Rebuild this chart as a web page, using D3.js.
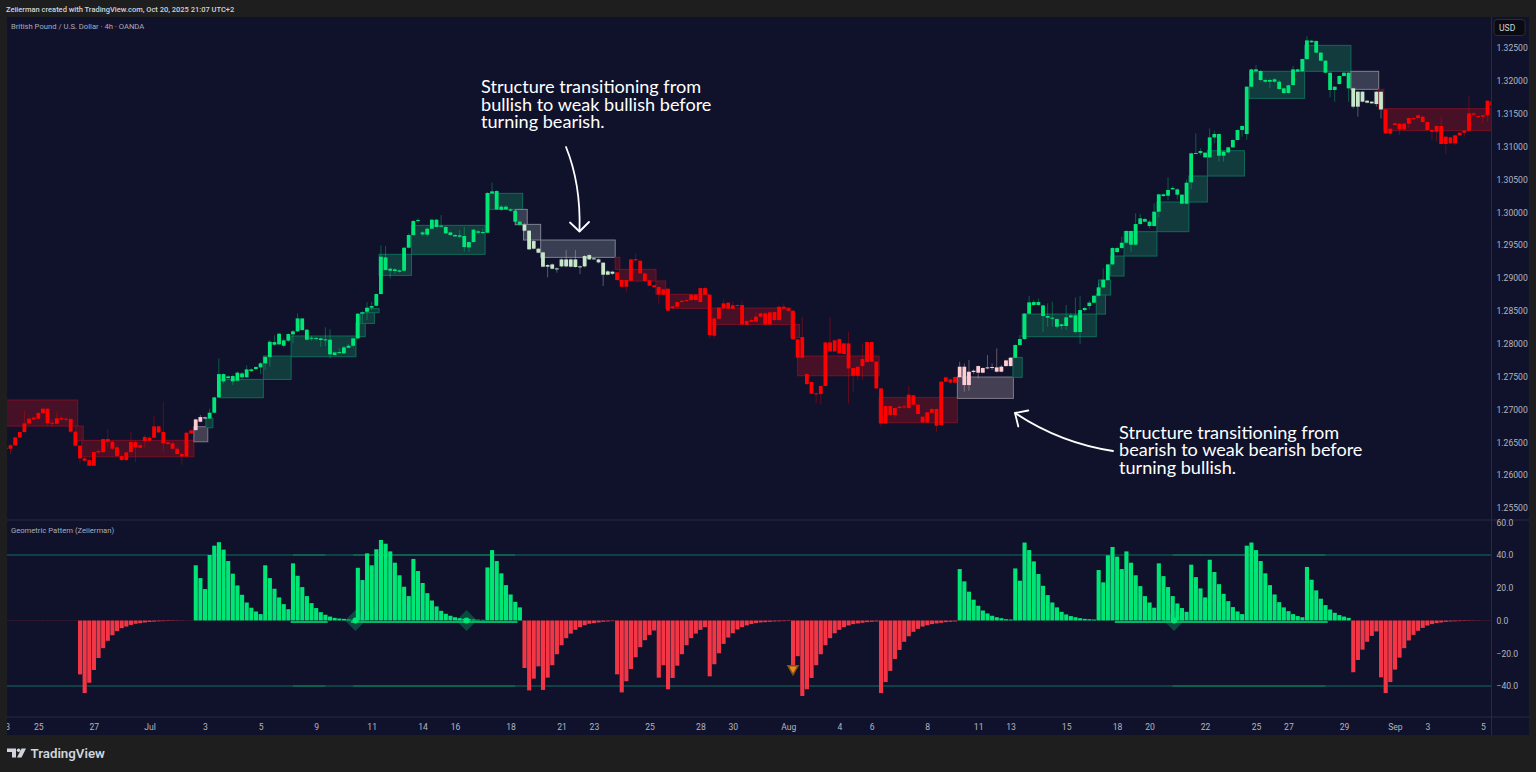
<!DOCTYPE html>
<html>
<head>
<meta charset="utf-8">
<script src="https://cdnjs.cloudflare.com/ajax/libs/d3/7.8.5/d3.min.js"></script>
<style>
html, body { margin: 0; padding: 0; background: #1e1e1e; overflow: hidden; }
svg { display: block; }
</style>
</head>
<body>
<div id="dchart"></div>
<script>
// GBPUSD 4h candles, prices in 1e-5 units
const opens = [
126417,126402,126453,126574,126656,126788,126848,126859,126945,127011,
126788,126782,126848,126859,126854,126661,126448,126255,126229,126143,
126346,126351,126549,126508,126422,126290,126229,126351,126503,126417,
126519,126569,126569,126742,126656,126498,126483,126402,126321,126285,
126635,126686,126813,126864,126864,126950,127183,127538,127477,127427,
127437,127548,127488,127584,127615,127640,127701,127797,127985,127990,
128051,128046,128142,128188,128385,128213,128076,128086,128081,128066,
128061,127827,127858,127853,127939,127969,128081,128457,128487,128548,
128578,128756,129314,129141,129106,129096,129111,129461,129654,129867,
129694,129659,129750,129887,129781,129776,129694,129654,129649,129639,
129466,129547,129710,129684,129689,130288,130323,130085,130044,130044,
130024,129857,129811,129720,129562,129446,129390,129197,129207,129146,
129177,129283,129283,129283,129177,129177,129283,129299,129283,129233,
129050,129096,129086,128969,128867,128959,129288,129263,129070,128964,
128888,128862,128827,128837,128543,128563,128634,128649,128664,128746,
128634,128847,128746,128122,128380,128538,128624,128533,128573,128588,
128289,128335,128335,128411,128462,128294,128482,128360,128563,128538,
128502,128066,127787,127538,127417,127244,127234,127356,128020,127883,
128071,127843,128005,127630,127513,127660,127721,128025,127726,127320,
126787,127051,126914,127021,127031,127021,127214,127072,126889,126803,
126950,127006,126762,127422,127457,127407,127493,127650,127371,127569,
127559,127630,127625,127635,127640,127574,127660,127660,127787,127980,
128071,128457,128589,128634,128583,128421,128396,128375,128269,128269,
128401,128431,128177,128512,128573,128624,128730,128857,128969,129207,
129456,129456,129537,129715,129507,129821,129897,129857,129791,130009,
130273,130252,130349,130349,130268,130131,130455,130897,130902,130907,
130836,131140,131191,130861,130912,130988,131100,131252,131191,131911,
132175,132150,132013,131987,131987,131987,131886,131815,131937,132175,
132145,132332,132611,132606,132429,132307,132124,131861,131952,132074,
132124,131886,131607,131835,131698,131683,131647,131835,131566,131196,
131328,131348,131262,131348,131434,131434,131455,131374,131252,131226,
131313,131039,131140,131049,131171,131211,131242,131505,131445,131455,131475,131688];

const closes = [
126402,126453,126574,126656,126788,126859,126874,126945,127011,126788,
126798,126864,126869,126848,126661,126448,126255,126219,126143,126351,
126366,126549,126508,126402,126290,126229,126346,126503,126422,126453,
126579,126524,126742,126651,126483,126473,126402,126321,126285,126645,
126681,126848,126884,126879,126950,127183,127538,127427,127503,127508,
127559,127488,127609,127609,127645,127701,127797,128030,128025,128152,
127969,128147,128188,128385,128208,128061,128091,128076,128056,128051,
127838,127868,127873,127944,127969,128081,128457,128477,128548,128573,
128756,129324,129121,129111,129131,129116,129461,129654,129867,129882,
129664,129750,129887,129776,129796,129679,129654,129633,129628,129471,
129547,129735,129689,129699,130293,130318,130044,130039,130085,130024,
129857,129811,129720,129436,129446,129385,129172,129172,129141,129136,
129283,129177,129172,129167,129162,129334,129349,129288,129238,129050,
129101,129065,128969,128867,128969,129283,129268,129070,128954,128883,
128862,128751,128746,128502,128568,128634,128654,128664,128746,128664,
128847,128746,128132,128385,128548,128614,128533,128583,128588,128294,
128345,128360,128411,128462,128294,128477,128360,128563,128533,128502,
128066,127787,128101,127386,127239,127234,127356,128020,127883,128051,
127853,128005,127624,127513,127650,127767,128025,127726,127320,126787,
127051,126914,127021,127041,127046,127224,127072,126930,126803,126955,
127006,126752,127422,127488,127407,127493,127650,127371,127574,127589,
127660,127559,127640,127645,127574,127650,127746,127787,127980,128071,
128457,128629,128634,128589,128421,128396,128380,128259,128294,128401,
128431,128177,128512,128543,128624,128730,128857,128974,129207,129456,
129395,129537,129715,129507,129821,129907,129857,129791,130009,130273,
130247,130339,130369,130268,130131,130450,130897,130902,130932,130836,
131140,131191,130861,130922,130988,131100,131252,131313,131911,132175,
132145,132013,131987,132013,132023,131876,131815,131932,132175,132140,
132332,132616,132586,132429,132307,132124,131861,131911,132074,132124,
131886,131607,131835,131683,131668,131658,131835,131566,131201,131272,
131353,131262,131348,131434,131424,131475,131374,131252,131226,131313,
131039,131150,131049,131171,131211,131242,131505,131485,131465,131475,131698,131632];

const highs = [
126422,126473,126585,126666,126980,126879,126889,126960,127031,127021,
126848,126960,126899,126879,126864,126666,126458,126280,126260,126351,
126392,126554,126706,126534,126458,126321,126351,126656,126524,126473,
126610,126595,126899,126762,127112,126524,126509,126432,126341,126656,
126696,126859,126914,126889,127011,127193,127777,127548,127518,127528,
127579,127569,127670,127625,127660,127721,127822,128056,128127,128167,
128081,128157,128208,128462,128385,128223,128117,128107,128096,128249,
128218,127883,127934,127965,127995,128096,128467,128492,128634,128634,
128766,129497,129486,129162,129152,129131,129466,129679,129882,129907,
129720,129770,129902,129902,129958,129791,129710,129669,129730,129781,
129557,129750,129740,129755,130308,130450,130339,130110,130110,130065,
130034,129882,129831,129730,129578,129461,129400,129212,129222,129162,
129299,129425,129299,129425,129192,129349,129365,129314,129299,129243,
129121,129111,129096,128979,128979,129294,129375,129273,129081,128974,
128898,128873,128837,128847,128588,128644,128664,128675,128756,128756,
128857,128867,128756,128396,128558,128675,128634,128639,128599,128654,
128360,128385,128487,128472,128477,128487,128492,128573,128614,128553,
128512,128076,128411,127549,127427,127254,127371,128030,128401,128066,
128081,128015,128183,127640,127660,128005,128035,128035,127736,127330,
127061,127061,127031,127067,127092,127356,127224,127082,126899,126965,
127016,127016,127432,127498,127467,127503,127726,127701,127751,127609,
127670,127640,127828,127701,127929,127675,127756,127797,127990,128132,
128467,128730,128665,128690,128593,128614,128639,128386,128310,128589,
128462,128705,128725,128563,128654,128741,128918,129146,129217,129466,
129476,129628,129730,129725,129984,129973,129918,129882,130136,130283,
130288,130531,130399,130364,130278,130501,130907,131201,130973,130917,
131277,131242,131201,130932,130998,131110,131262,131323,131921,132185,
132241,132165,132038,132038,132043,132013,131896,131942,132226,132185,
132342,132677,132621,132616,132439,132317,132134,131921,132084,132134,
132134,131896,131845,131845,131708,131693,131845,131576,131576,131282,
131363,131358,131358,131445,131445,131495,131465,131384,131262,131323,
131455,131160,131150,131181,131221,131252,131769,131516,131475,131485,131708,131734];

const lows = [
126392,126321,126443,126554,126646,126767,126838,126848,126930,126757,
126737,126772,126828,126808,126635,126432,126179,126199,126138,126138,
126331,126331,126432,126382,126270,126219,126219,126306,126199,126402,
126422,126509,126559,126635,126356,126458,126382,126306,126158,126280,
126625,126676,126803,126848,126854,126940,127173,127396,127457,127371,
127427,127457,127477,127569,127599,127538,127599,127650,127965,127980,
127944,128025,128005,128177,128198,128051,128046,128046,127954,127965,
127777,127817,127843,127843,127929,127944,128066,128319,128360,128512,
128563,128751,129121,128994,129060,129081,129101,129451,129644,129831,
129639,129628,129740,129770,129770,129669,129644,129623,129603,129400,
129400,129537,129669,129669,129679,130278,130034,130024,130034,130009,
129841,129801,129710,129425,129436,129375,129162,129009,129131,129081,
129162,129162,129162,129157,129060,129162,129273,129273,129222,128878,
129040,129045,128959,128857,128781,128949,129253,129060,128944,128873,
128852,128614,128736,128492,128533,128553,128624,128639,128654,128654,
128624,128736,128081,128081,128370,128528,128522,128522,128563,128284,
128279,128320,128325,128386,128284,128284,128350,128350,128512,128482,
128056,127777,127777,127371,127229,127092,127077,127346,127873,127873,
127843,127833,127092,127270,127447,127447,127711,127716,127310,126737,
126777,126904,126864,127011,127011,127011,127061,126919,126793,126793,
126940,126661,126752,127412,127396,127396,127483,127270,127285,127538,
127473,127549,127609,127599,127564,127564,127650,127650,127777,127970,
128061,128446,128578,128573,128177,128259,128259,128233,128218,128208,
128386,128157,127995,128487,128522,128614,128715,128842,128959,129197,
129375,129436,129527,129400,129497,129811,129847,129755,129781,129923,
130237,130187,130339,130197,130121,130121,130349,130887,130871,130826,
130826,131049,130770,130770,130897,130978,131089,131150,131100,131901,
132114,131987,131962,131886,131972,131866,131805,131805,131927,132129,
132134,132322,132576,132419,132297,132114,131749,131683,131942,132063,
131683,131581,131455,131673,131658,131647,131607,131429,131191,131166,
131318,131176,131252,131277,131404,131424,131363,131242,131100,131074,
131029,130887,131039,131023,131160,131150,131231,131475,131434,131353,131379,131607];

// oscillator histogram, one value per candle
const histValues = [
-.1,-.1,-.1,-.1,-.1,-.1,-.1,-.1,-.1,-.1,
-.1,-.1,-.1,-.1,-.1,-.1,-32.9,-44.3,-38,-30.2,
-22.9,-16.9,-12.4,-9,-6.5,-4.7,-3.7,-2.7,-2,-1.6,
-1.2,-.9,-.7,-.5,-.4,-.3,-.25,-.2,-.15,-.1,
-.1,33.7,25.9,19.2,40,45.7,47.8,43.3,36.3,28.6,
21.4,15.7,11,7.8,5.5,3.9,33.7,25.9,19.4,14.1,
10,6.9,34.9,27.3,20.4,14.9,10.6,7.6,5.1,3.5,
2.4,1.6,1.2,1,.6,.4,32.2,24.7,41,33.7,
43.5,49.2,46.9,42.2,35.3,27.6,20.6,14.9,37.6,30.2,
22.9,16.7,12.2,8.6,5.9,4.1,2.9,2,1.4,1,
.8,.6,.5,.4,32.4,43,36.3,28.8,21.6,15.9,
11.4,8,-29,-42.7,-35.5,-28,-42.4,-34.9,-27.3,-20.6,
-15.1,-10.8,-8,-5.7,-4.1,-2.9,-2,-1.6,-1.2,-.8,
-.6,-.4,-32.9,-43.9,-37.1,-29.6,-22.4,-16.3,-12,-8.8,
-6.1,-34.9,-27.3,-42,-35.1,-27.6,-20.6,-15.1,-10.8,-8,
-5.7,-4.1,-34.1,-26.7,-20,-14.3,-10.4,-7.8,-5.5,-4.1,
-3,-2.2,-1.6,-1.2,-1,-.8,-.6,-.5,-.4,-.3,
-29,-21.8,-46.1,-42,-35.1,-27.3,-20.6,-15.1,-10.8,-7.8,
-5.7,-4.1,-3,-2.2,-1.8,-1.4,-1,-.8,-.6,-44.3,
-37.6,-30.8,-23.5,-18,-13,-9.6,-6.9,-5.1,-3.7,-2.9,
-2.2,-1.8,-1.4,-1,-.8,-.6,31.4,23.9,17.6,12.7,
9,6.1,4.3,2.9,2,1.4,.8,.6,31.8,24.3,
47.6,43,36.1,28.4,21.2,15.5,11,8,5.3,3.7,
2.7,2,1.4,1,.8,.6,30.8,23.3,39.8,44.9,
39,31.4,42.2,35.3,27.6,21,14.9,11,7.8,34.9,
27.1,20.4,14.9,10.4,7.6,5.3,34.1,26.5,19.6,14.1,
37.1,29.6,22.2,16.3,11.8,8.2,5.5,3.9,45.7,47.6,
43,36.3,28.8,21.6,15.9,11.2,8,5.7,3.9,2.7,
2,32.7,24.9,18.4,13.3,9.4,6.7,4.7,3.3,2.4,
1.6,-31.6,-24.1,-17.8,-13,-9.4,-6.7,-34.7,-44.3,-37.6,
-30,-22.7,-16.9,-12.2,-8.8,-6.3,-4.5,-3.1,-2.2,-1.6,
-1.2,-.8,-.6,-.5,-.4,-.3,-.25,-.2,-.15,-.1,-.1,-.1];

// trend state: first candle of each run and its name
const trendStarts = [0, 41, 44, 112, 132, 206, 218, 291, 298];
const trendNames = ["bear", "weakBear", "bull", "weakBull", "bear", "weakBear", "bull", "weakBull", "bear"];

// structure zones: candle range, price range, state
const zoneFrom = [-2,15,16.4,40.6,43.2,46.1,55.6,61.6,75.6,76.6,77.8,80.6,87.6,104.4,110,111.8,115.5,131.6,132.5,140.4,142.5,152.5,169.5,171,188.6,205.5,217.5,219.5,235.5,236,238.6,241.5,248.6,255.5,259.5,268.6,280.5,290.5,296.5,297.6];
const zoneTo = [15.5,16.7,40.6,43.6,44.7,55.6,61.6,75.6,77.6,79.6,80.6,87.6,103.5,111.6,112.6,115.5,131.6,132.6,140.4,142.5,151.8,169.5,171.4,188.6,205.5,217.6,219.5,235.5,237.5,238.6,241.5,248.6,255.5,259.5,267.5,280.5,290.5,296.5,297.6,322];
const zoneTop = [127143,126747,126529,126737,126864,127457,127812,128117,128309,128472,128533,129360,129801,130288,130044,129816,129578,129314,129131,128954,128751,128543,128294,127812,127183,127493,127792,128451,128751,128969,129334,129705,130156,130552,130937,132145,132540,132145,131871,131576];
const zoneBottom = [126747,126524,126280,126508,126721,127178,127457,127802,128107,128309,128472,129040,129360,130044,129811,129578,129314,129131,128954,128751,128538,128294,128096,127513,126798,127168,127488,128107,128451,128741,129030,129334,129705,130156,130552,131734,132145,131871,131566,131242];
const zoneState = ["bear","bear","bear","weakBear","bull","bull","bull","bull","bull","bull","bull","bull","bull","bull","weakBull","weakBull","weakBull","bear","bear","bear","bear","bear","bear","bear","bear","weakBear","bull","bull","bull","bull","bull","bull","bull","bull","bull","bull","bull","weakBull","bear","bear"];

// oscillator signals and level highlights
const diamondIdx = [75.5, 99.5, 252.3];
const triangleIdx = 170;
const triangleVal = -29.5;
const baselineRuns = [[62, 69], [75, 110], [240, 285]];
const levelRuns = [[62, 69], [75, 110], [252, 285]];

const priceTicks = [125500,126000,126500,127000,127500,128000,128500,129000,129500,130000,130500,131000,131500,132000,132500];
const oscTicks = [60, 40, 20, 0, -20, -40];
const timeTickIdx = [0.3,7,19,31,43,55,67,79,90,97,109,120,127,139,150,157,169,180,187,199,210,217,229,240,247,259,270,277,289,300,307,319];
const timeTickLabels = ["3","25","27","Jul","3","5","9","11","14","16","18","21","23","25","28","30","Aug","4","6","8","11","13","15","18","20","22","25","27","29","Sep","3","5"];

const noteTop = ["Structure transitioning from", "bullish to weak bullish before", "turning bearish."];
const noteBottom = ["Structure transitioning from", "bearish to weak bearish before", "turning bullish."];

const candleColor = { bull: "#00e676", bear: "#ff0000", weakBull: "#c8e6c9", weakBear: "#ffcdd2" };
const zoneFill = { bull: "#113b3d", bear: "#461126", weakBull: "#3a3e52", weakBear: "#453f54" };
const zoneStroke = { bull: "#0e6b58", bear: "#7a1024", weakBull: "#7d8290", weakBear: "#7f7a88" };

const stateAt = i => trendNames[d3.bisectRight(trendStarts, i) - 1];

const width = 1536, height = 772;
const plot = { left: 7, right: 1491.5, top: 17, paneSplit: 520, timeTop: 717, bottom: 735, frameRight: 1529 };
const uiFont = "Roboto, 'Noto Sans', sans-serif";

const svg = d3.select("#dchart").append("svg").attr("width", width).attr("height", height);

svg.append("rect").attr("width", width).attr("height", height).attr("fill", "#1e1e1e");
svg.append("rect").attr("x", plot.left).attr("y", plot.top)
    .attr("width", plot.frameRight - plot.left).attr("height", plot.bottom - plot.top)
    .attr("fill", "#10122c");

svg.append("defs").append("clipPath").attr("id", "plotclip").append("rect")
    .attr("x", plot.left).attr("y", plot.top)
    .attr("width", plot.right - plot.left).attr("height", plot.timeTop - plot.top);

const x = d3.scaleLinear().domain([0, 320]).range([5.9, 1487.5]);
const yPrice = d3.scaleLinear().domain([125500, 132500]).range([508, 48]);
const yOsc = d3.scaleLinear().domain([-40, 40]).range([686, 555]);

const chart = svg.append("g").attr("clip-path", "url(#plotclip)");

// structure zones
chart.append("g").selectAll("rect").data(d3.range(zoneFrom.length)).join("rect")
    .attr("x", i => x(zoneFrom[i]))
    .attr("y", i => yPrice(zoneTop[i]))
    .attr("width", i => x(zoneTo[i]) - x(zoneFrom[i]))
    .attr("height", i => yPrice(zoneBottom[i]) - yPrice(zoneTop[i]))
    .attr("fill", i => zoneFill[zoneState[i]])
    .attr("stroke", i => zoneStroke[zoneState[i]])
    .attr("stroke-width", 1);

// candles
const candles = d3.range(closes.length);
chart.append("g").selectAll("line").data(candles).join("line")
    .attr("x1", i => x(i)).attr("x2", i => x(i))
    .attr("y1", i => yPrice(highs[i])).attr("y2", i => yPrice(lows[i]))
    .attr("stroke", i => candleColor[stateAt(i)])
    .attr("stroke-opacity", 0.35);
chart.append("g").selectAll("rect").data(candles).join("rect")
    .attr("x", i => x(i) - 1.9).attr("width", 3.8)
    .attr("y", i => yPrice(Math.max(opens[i], closes[i])))
    .attr("height", i => Math.max(1, Math.abs(yPrice(opens[i]) - yPrice(closes[i]))))
    .attr("fill", i => candleColor[stateAt(i)]);

// oscillator pane
const oscLine = (g, from, to, value, color, w) => g.append("line")
    .attr("x1", x(from)).attr("x2", x(to))
    .attr("y1", yOsc(value)).attr("y2", yOsc(value))
    .attr("stroke", color).attr("stroke-width", w);

const osc = chart.append("g");
[40, -40].forEach(level => {
    oscLine(osc, -2, 322, level, "#11504f", 1.4);
    levelRuns.forEach(r => oscLine(osc, r[0], r[1], level, "#0c6a55", 1.4));
});

osc.selectAll("path.halo").data(diamondIdx).join("path").attr("class", "halo")
    .attr("d", d3.symbol(d3.symbolSquare, 220))
    .attr("transform", d => `translate(${x(d)},${yOsc(0)}) rotate(45)`)
    .attr("fill", "#0c4a40");

osc.append("g").selectAll("rect").data(d3.range(histValues.length)).join("rect")
    .attr("x", i => x(i) - 2).attr("width", 4.1)
    .attr("y", i => Math.min(yOsc(0), yOsc(histValues[i])))
    .attr("height", i => Math.abs(yOsc(histValues[i]) - yOsc(0)))
    .attr("fill", i => histValues[i] >= 0 ? "#00e676" : "#f23645");

baselineRuns.forEach(r => oscLine(osc, r[0] - .5, r[1] + .5, -0.9, "#06b56a", 2));

osc.selectAll("circle").data(diamondIdx).join("circle")
    .attr("cx", d => x(d)).attr("cy", yOsc(0)).attr("r", 3)
    .attr("fill", "#00e676");

osc.append("path")
    .attr("d", d3.symbol(d3.symbolTriangle, 72))
    .attr("transform", `translate(${x(triangleIdx)},${yOsc(triangleVal)}) rotate(180)`)
    .attr("fill", "#7a5218");
osc.append("path")
    .attr("d", d3.symbol(d3.symbolTriangle, 26))
    .attr("transform", `translate(${x(triangleIdx)},${yOsc(triangleVal)}) rotate(180)`)
    .attr("fill", "#f08a10");

// pane separators
const sep = "#262a3e";
svg.append("line").attr("x1", plot.left).attr("x2", plot.frameRight).attr("y1", plot.paneSplit).attr("y2", plot.paneSplit).attr("stroke", sep);
svg.append("line").attr("x1", plot.left).attr("x2", plot.frameRight).attr("y1", plot.timeTop).attr("y2", plot.timeTop).attr("stroke", sep);
svg.append("line").attr("x1", plot.right).attr("x2", plot.right).attr("y1", plot.top).attr("y2", plot.bottom).attr("stroke", sep);

// axes
function styleAxis(g) {
    g.select(".domain").remove();
    g.selectAll(".tick line").remove();
    g.selectAll("text").attr("fill", "#b2b5be").style("font-family", uiFont).style("font-size", "8.6px");
}

svg.append("g").attr("transform", `translate(${plot.right},0)`)
    .call(d3.axisRight(yPrice).tickValues(priceTicks).tickSize(0).tickPadding(5).tickFormat(d => (d / 1e5).toFixed(5)))
    .call(styleAxis);
svg.append("g").attr("transform", `translate(${plot.right},0)`)
    .call(d3.axisRight(yOsc).tickValues(oscTicks).tickSize(0).tickPadding(5).tickFormat(d3.format(".1f")))
    .call(styleAxis);

svg.select("defs").append("clipPath").attr("id", "timeclip").append("rect")
    .attr("x", plot.left).attr("y", -10).attr("width", plot.right - plot.left).attr("height", 40);
svg.append("g").attr("transform", `translate(0,${plot.timeTop + 4})`)
    .attr("clip-path", "url(#timeclip)")
    .call(d3.axisBottom(x).tickValues(timeTickIdx).tickSize(0).tickPadding(3)
        .tickFormat(d => timeTickLabels[timeTickIdx.indexOf(d)]))
    .call(styleAxis);

// currency button
svg.append("rect").attr("x", 1494).attr("y", 19.5).attr("width", 31).attr("height", 16).attr("rx", 3)
    .attr("fill", "#0a0b12").attr("stroke", "#2a2b33");
svg.append("text").attr("x", 1499).attr("y", 30.5).text("USD")
    .attr("fill", "#d1d4dc").style("font-family", uiFont).style("font-size", "8.6px");

// captions
const caption = (str, px, py, size, color, weight) => svg.append("text")
    .attr("x", px).attr("y", py).text(str)
    .attr("fill", color).attr("font-weight", weight || 400)
    .style("font-family", uiFont).style("font-size", size + "px");

caption("Zeiierman created with TradingView.com, Oct 20, 2025 21:07 UTC+2", 6, 12, 7.5, "#d1d4dc", 500);
caption("British Pound / U.S. Dollar · 4h · OANDA", 11, 29, 7.65, "#a9acb6");
caption("Geometric Pattern (Zeiierman)", 11, 533, 7.65, "#a9acb6");

// hand drawn notes, one text element per note
const noteFont = "Lato, 'Noto Sans', sans-serif";
const writeNote = (lines, px, py) => svg.append("text")
    .attr("fill", "#ffffff")
    .style("font-family", noteFont).style("font-size", "18.1px")
    .selectAll("tspan").data(lines).join("tspan")
    .attr("x", px).attr("y", (d, k) => py + k * 17.8)
    .text(d => d);
writeNote(noteTop, 481, 92.8);
writeNote(noteBottom, 1119, 438.5);

const arrows = svg.append("g").attr("fill", "none").attr("stroke", "#ffffff")
    .attr("stroke-width", 1.8).attr("stroke-linecap", "round").attr("stroke-linejoin", "round");
arrows.append("path").attr("d", "M566,147 Q581,184 579.5,231");
arrows.append("path").attr("d", "M570,222.5 L579.5,231.5 L589,222");
arrows.append("path").attr("d", "M1113,451 Q1060,443 1015,413");
arrows.append("path").attr("d", "M1018.3,426.5 L1015,413 L1028.3,410.5");

// footer logo
const logo = svg.append("g").attr("fill", "#d1d4dc");
logo.append("path").attr("d", "M7,748.5 H16 V757.5 H12 V752 H7 Z");
logo.append("circle").attr("cx", 18.6).attr("cy", 750.3).attr("r", 1.8);
logo.append("path").attr("d", "M21.5,748.5 H26 L21.5,757.5 H17 Z");
caption("TradingView", 30.5, 758, 13.3, "#d1d4dc", 600);
</script>
</body>
</html>
